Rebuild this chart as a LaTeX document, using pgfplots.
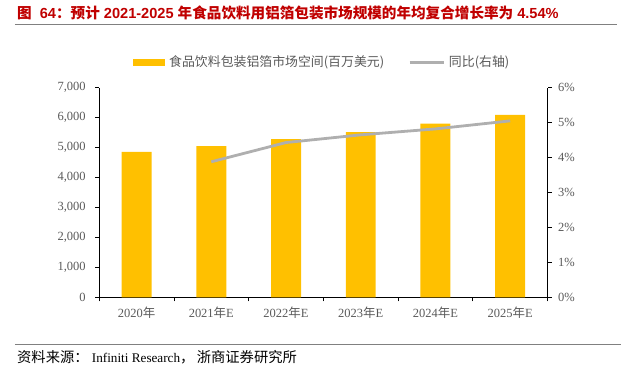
\documentclass[border=0pt]{standalone}
\usepackage{fontspec}
\usepackage{pgfplots}
\pgfplotsset{compat=1.18}
\setmainfont{Liberation Serif}
\newfontfamily\cjk{Noto Sans CJK SC}
\newfontfamily\arial{Liberation Sans}
\definecolor{barc}{HTML}{FFC000}
\definecolor{linec}{HTML}{AFAFAF}
\definecolor{titlered}{HTML}{C00000}
\definecolor{txtgray}{HTML}{595959}
\definecolor{rulegray}{HTML}{808080}
\begin{document}
\begin{tikzpicture}[x=1pt,y=1pt]
\path (0,0) rectangle (621,365);
\node[anchor=west, inner sep=0, text=titlered] at (17,352) {\fontsize{14.6}{16}\selectfont\bfseries{\cjk 图}\arial\ \ 64{\cjk ：预计}\ 2021-2025\ {\cjk 年食品饮料用铝箔包装市场规模的年均复合增长率为}\ 4.54\%};
\draw[rulegray, line width=1pt] (15,340) -- (617,340);
\draw[rulegray, line width=1pt] (15,20) -- (621,20);
\node[anchor=west, inner sep=0, text=black] at (17,8) {\fontsize{13.2}{14}\selectfont{\cjk\fontsize{14.3}{15}\selectfont 资料来源：}\ Infiniti Research{\cjk\fontsize{14.3}{15}\selectfont ，\,浙商证券研究所}};

\begin{axis}[
 at={(99.3pt,67.3pt)}, anchor=south west,
 scale only axis, width=448.7pt, height=210pt,
 xmin=-0.5, xmax=5.5, ymin=0, ymax=7000,
 axis x line*=bottom, axis y line*=left,
 axis line style={black, line width=0.8pt, -},
 xtick={-0.5,0.5,...,5.5}, xticklabels={},
 extra x ticks={0,1,2,3,4,5},
 extra x tick labels={2020{\cjk 年},2021{\cjk 年}E,2022{\cjk 年}E,2023{\cjk 年}E,2024{\cjk 年}E,2025{\cjk 年}E},
 extra x tick style={major tick length=0pt},
 ytick={0,1000,...,7000},
 tick align=outside, major tick length=4pt,
 tick style={black, line width=0.8pt},
 /pgf/number format/.cd, 1000 sep={,}, assume math mode=true, /pgfplots/.cd,
 ticklabel style={text=txtgray, font=\fontsize{12.5}{14}\selectfont},
 yticklabel style={xshift=-6pt},
 xticklabel style={yshift=-6pt},
]
\addplot[ybar, bar width=30pt, bar shift=0pt, fill=barc, draw=none] coordinates {(0,4860) (1,5050) (2,5280) (3,5520) (4,5800) (5,6090)};
\end{axis}

\begin{axis}[
 at={(99.3pt,67.3pt)}, anchor=south west,
 scale only axis, width=448.7pt, height=210pt,
 xmin=-0.5, xmax=5.5, ymin=0, ymax=6,
 axis x line=none, axis y line*=right,
 axis line style={black, line width=0.8pt, -},
 ytick={0,1,...,6},
 yticklabel={\pgfmathprintnumber{\tick}\%},
 tick align=outside, major tick length=4pt,
 tick style={black, line width=0.8pt},
 /pgf/number format/assume math mode=true,
 ticklabel style={text=txtgray, font=\fontsize{12.5}{14}\selectfont},
 yticklabel style={xshift=3pt},
 legend style={at={(0.497,1.122)}, anchor=center, draw=none, fill=none,
   legend columns=2, font=\cjk\fontsize{12.9}{14}\selectfont, text=txtgray,
   /tikz/every even column/.append style={column sep=22pt}},
]
\addlegendimage{legend image code/.code={\fill[barc] (0pt,-3pt) rectangle (31pt,3pt);\path (34pt,0pt);}}
\addlegendentry{食品饮料包装铝箔市场空间(百万美元)}
\addplot[line width=2.8pt, color=linec, no markers,
  legend image code/.code={\draw[line width=3pt, linec] (0pt,0pt) -- (34pt,0pt);\path (36pt,0pt);}]
  coordinates {(1,3.88) (2,4.43) (3,4.65) (4,4.82) (5,5.05)};
\addlegendentry{同比(右轴)}
\end{axis}
\end{tikzpicture}
\end{document}
